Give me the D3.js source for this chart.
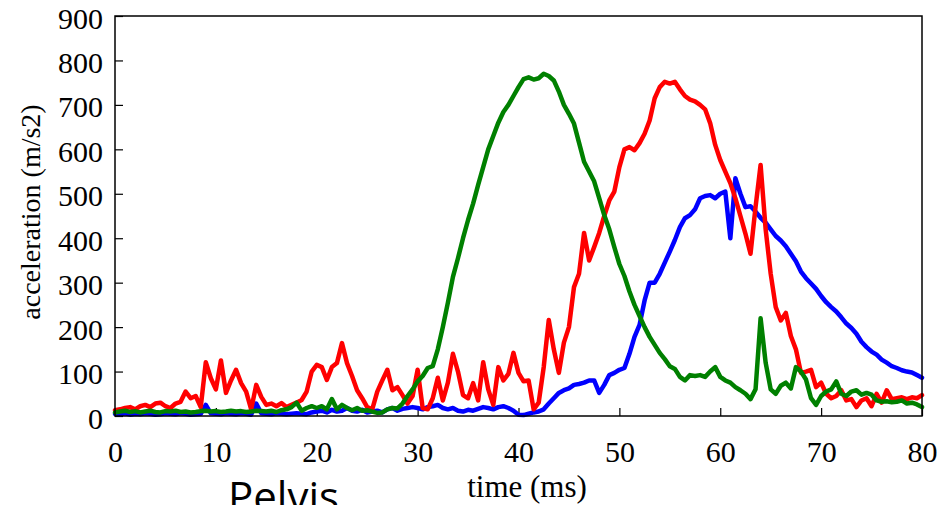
<!DOCTYPE html>
<html>
<head>
<meta charset="utf-8">
<script src="https://cdn.jsdelivr.net/npm/d3@7"></script>
<style>
  body { margin: 0; background: #fff; }
  svg { display: block; }
</style>
</head>
<body>
<div class="canvas"></div>
<script>
// samples every 0.5 ms from 0 to 80 ms
const time = d3.range(0, 80.25, 0.5);

const blue = [
  5, 4, 6, 3, 5, 4, 6, 5, 3, 4, 6, 5, 4, 6, 5, 3, 4, 5, 25, 6,
  5, 4, 6, 5, 4, 6, 5, 3, 28, 6, 5, 4, 6, 5, 4, 5, 6, 5, 4, 8,
  10, 12, 8, 14, 10, 12, 18, 12, 10, 14, 8, 10, 12, 8, 15, 18, 12, 16, 18, 20,
  18, 15, 20, 22, 25, 18, 15, 18, 12, 10, 14, 12, 16, 20, 18, 15, 20, 22, 18, 12,
  3, 2, 5, 8, 10, 15, 28, 40, 52, 58, 62, 70, 72, 75, 80, 80, 52, 70, 92, 97,
  104, 108, 140, 178, 205, 260, 300, 300, 320, 345, 370, 396, 425, 445, 452, 465, 490, 495, 497, 490,
  500, 505, 400, 535, 500, 470, 472, 460, 446, 435, 420, 405, 395, 382, 365, 348, 325, 310, 298, 286,
  270, 256, 245, 235, 222, 208, 198, 185, 167, 155, 145, 138, 127, 120, 112, 108, 103, 100, 98, 92, 86
];

const red = [
  13, 15, 18, 20, 15, 22, 25, 20, 28, 30, 22, 18, 28, 32, 55, 40, 45, 20, 121, 85,
  60, 125, 52, 80, 104, 74, 55, 15, 70, 43, 25, 28, 22, 29, 20, 25, 30, 36, 55, 100,
  115, 110, 81, 110, 119, 164, 119, 90, 58, 40, 20, 15, 55, 80, 104, 58, 65, 47, 28, 45,
  104, 18, 15, 40, 86, 35, 75, 140, 100, 47, 40, 74, 35, 121, 60, 25, 110, 80, 95, 142,
  97, 78, 80, 15, 30, 110, 216, 150, 97, 165, 200, 290, 320, 412, 350, 380, 412, 450, 485, 505,
  560, 600, 605, 598, 614, 635, 665, 715, 740, 752, 748, 752, 735, 720, 712, 708, 700, 690, 659, 610,
  576, 550, 524, 490, 450, 410, 365, 470, 565, 420, 320, 245, 215, 232, 180, 150, 97, 100, 104, 65,
  75, 50, 40, 45, 58, 35, 38, 20, 35, 40, 22, 50, 30, 58, 38, 40, 42, 38, 42, 40, 47
];

const green = [
  8, 10, 12, 9, 11, 8, 10, 12, 9, 8, 11, 10, 12, 9, 10, 8, 9, 11, 12, 10,
  11, 9, 10, 12, 10, 11, 9, 10, 12, 11, 10, 12, 9, 13, 15, 20, 30, 12, 18, 22,
  18, 22, 15, 38, 15, 25, 18, 13, 18, 12, 13, 10, 7, 8, 15, 18, 17, 28, 45, 60,
  78, 90, 108, 112, 150, 200, 255, 313, 355, 400, 441, 478, 520, 560, 600, 630, 660, 684, 700, 720,
  740, 758, 762, 757, 760, 770, 765, 755, 730, 700, 680, 658, 615, 572, 550, 528, 490, 452, 420, 380,
  342, 315, 280, 250, 225, 200, 178, 160, 142, 128, 112, 106, 88, 80, 92, 90, 92, 88, 100, 110,
  88, 80, 75, 65, 58, 50, 38, 60, 220, 120, 60, 50, 68, 75, 62, 110, 100, 82, 40, 25,
  45, 55, 60, 78, 50, 45, 55, 58, 48, 52, 48, 35, 32, 33, 31, 32, 35, 28, 30, 26, 20
];

const xTicks = [0, 10, 20, 30, 40, 50, 60, 70, 80];
const yTicks = [0, 100, 200, 300, 400, 500, 600, 700, 800, 900];

const W = 937, H = 505;
const plot = { left: 115, right: 922, top: 16, bottom: 416 };
const serif = "'Liberation Serif', 'Times New Roman', serif";

const svg = d3.select(".canvas")
  .append("svg")
  .attr("width", W)
  .attr("height", H);

const x = d3.scaleLinear().domain([0, 80]).range([plot.left, plot.right]);
const y = d3.scaleLinear().domain([0, 900]).range([plot.bottom, plot.top]);

// axes, ticks point inward
const gx = svg.append("g")
  .attr("transform", `translate(0,${plot.bottom})`)
  .call(d3.axisBottom(x).tickValues(xTicks).tickSize(-8).tickPadding(25));
const gy = svg.append("g")
  .attr("transform", `translate(${plot.left},0)`)
  .call(d3.axisLeft(y).tickValues(yTicks).tickSize(-8).tickPadding(12));

[gx, gy].forEach(g => {
  g.select(".domain").remove();
  g.selectAll("line").attr("stroke", "#000").attr("stroke-width", 1.2);
  g.selectAll("text")
    .attr("fill", "#000")
    .style("font-family", serif)
    .style("font-size", "30px");
});
gy.selectAll("text").attr("dy", "0.4em");

const line = d3.line()
  .x((d, i) => x(time[i]))
  .y(d => y(d));

const series = [
  { values: blue, color: "#0000ff" },
  { values: red, color: "#ff0000" },
  { values: green, color: "#008000" }
];

svg.append("g")
  .selectAll("path")
  .data(series)
  .join("path")
  .attr("d", d => line(d.values))
  .attr("fill", "none")
  .attr("stroke", d => d.color)
  .attr("stroke-width", 4.5)
  .attr("stroke-linejoin", "round")
  .attr("stroke-linecap", "round");

// plot frame
svg.append("rect")
  .attr("x", plot.left)
  .attr("y", plot.top)
  .attr("width", plot.right - plot.left)
  .attr("height", plot.bottom - plot.top)
  .attr("fill", "none")
  .attr("stroke", "#000")
  .attr("stroke-width", 1.5);

svg.append("text")
  .attr("x", 527)
  .attr("y", 497)
  .attr("text-anchor", "middle")
  .style("font-family", serif)
  .style("font-size", "31px")
  .text("time (ms)");

svg.append("text")
  .attr("transform", "translate(40,212) rotate(-90)")
  .attr("text-anchor", "middle")
  .style("font-family", serif)
  .style("font-size", "28px")
  .text("acceleration (m/s2)");

svg.append("text")
  .attr("x", 228)
  .attr("y", 512)
  .style("font-family", "'Open Sans', 'Noto Sans', sans-serif")
  .style("font-size", "42px")
  .text("Pelvis");
</script>
</body>
</html>
